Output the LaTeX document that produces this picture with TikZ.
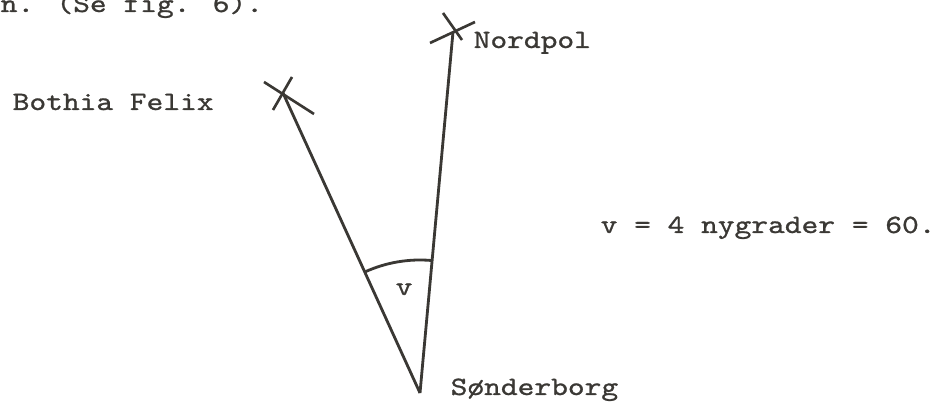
\documentclass[tikz,border=0pt]{standalone}
\usepackage{fontspec}
\usepackage{tikz}
\usepackage{xcolor}
\usetikzlibrary{calc,positioning}
\newfontfamily\typewriter{lmmono10-regular.otf}[FakeStretch=1.21,FakeBold=1]
\definecolor{fxInk}{RGB}{58,56,52}
\definecolor{fxPaper}{RGB}{255,255,255}
\newcommand{\fixcross}[5]{%
  \draw[fxInk,line width=0.75pt] ($(#1)+(#2)$)--($(#1)+(#3)$);
  \draw[fxInk,line width=0.75pt] ($(#1)+(#4)$)--($(#1)+(#5)$);
}
\tikzset{
  typed/.style={font=\typewriter\fontsize{7.5}{9}\selectfont,text=fxInk,inner sep=0pt,anchor=base west},
  ray/.style={draw=fxInk,line width=0.8pt}
}

\begin{document}
\begin{tikzpicture}[x=0.1cm,y=0.1cm]
  \useasboundingbox[fill=fxPaper] (0,0) rectangle (93.6,40.3);
  \coordinate (sonder) at (42.0,1.0);
  \coordinate (bothia) at (28.3,31.0);
  \coordinate (nordpol) at (45.3,37.1);
  \draw[ray] (sonder)--(bothia);
  \draw[ray] (sonder)--(nordpol);
  \fixcross{bothia}{-1.9,1.1}{3.1,-2.1}{0.9,1.6}{-1.0,-1.7}
  \fixcross{nordpol}{-1.0,1.9}{0.9,-0.8}{-2.3,-1.1}{2.2,1.0}
  \draw[ray] ($(sonder)+(114.5:13.3)$) arc[start angle=114.5,end angle=84.8,radius=13.3];
  \node[typed] (vang) at (39.5,10.8) {v};
  \node[typed] (top) at (0,39.1) {n. (Se fig. 6).};
  \node[typed] (bname) at (1.2,29.3) {Bothia Felix};
  \node[typed] (nname) at (47.3,35.5) {Nordpol};
  \node[typed] (sname) at (45.0,0.8) {Sønderborg};
  \node[typed] (vval) at (60.0,17.0) {v = 4 nygrader = 60.};
\end{tikzpicture}
\end{document}
